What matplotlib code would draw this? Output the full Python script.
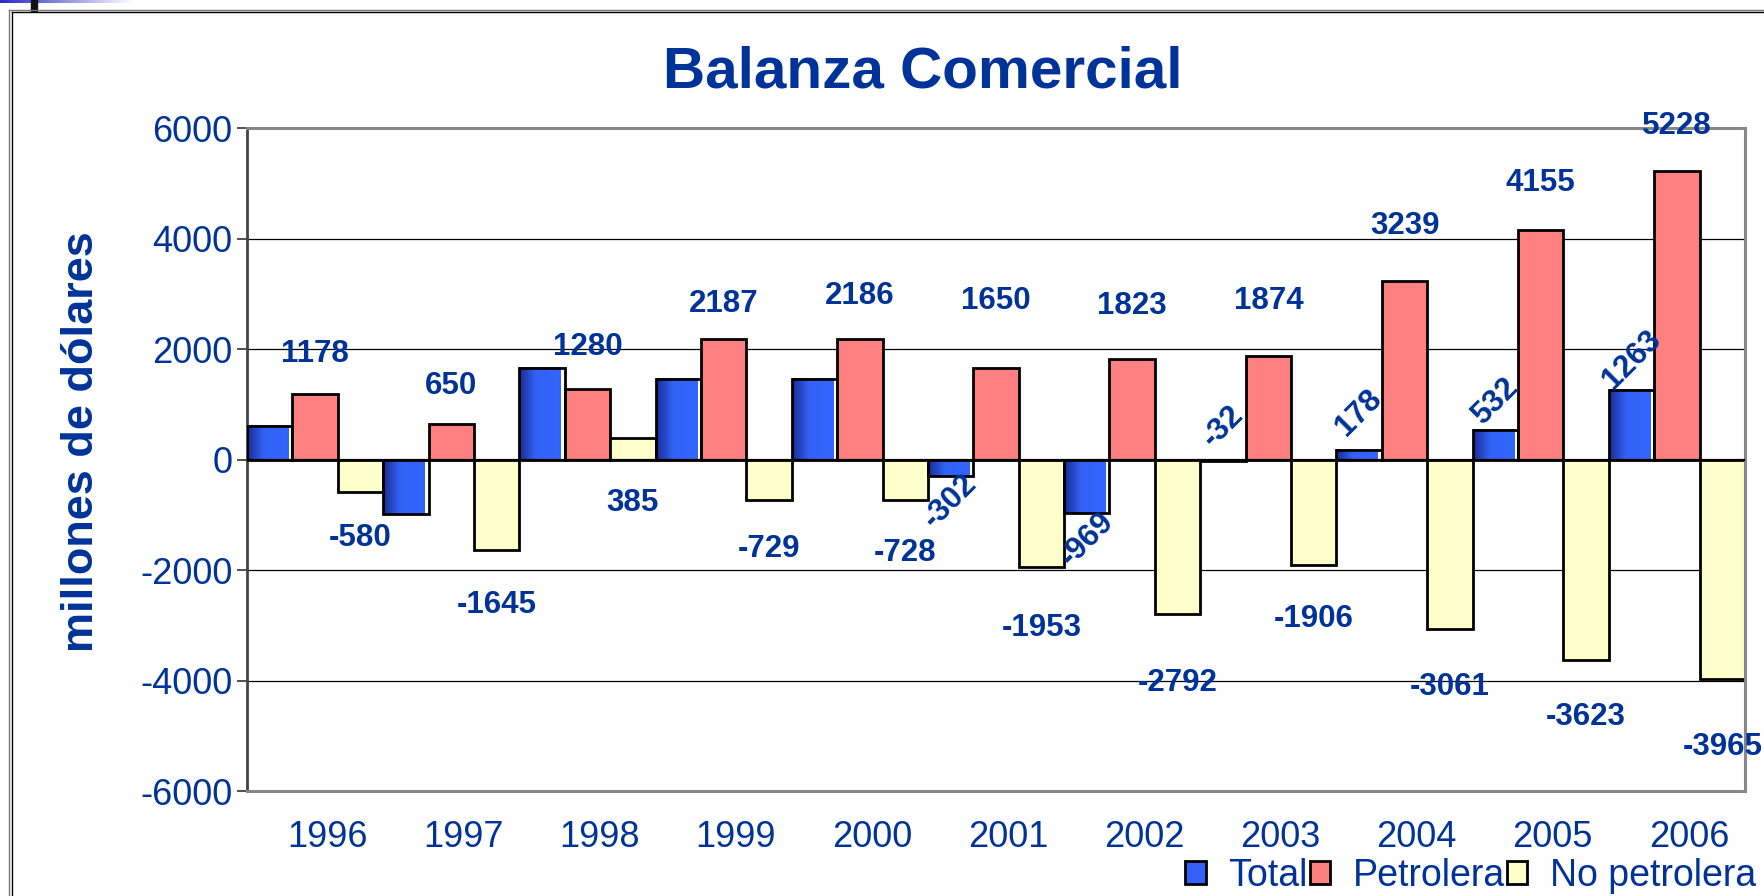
import numpy as np
import matplotlib
matplotlib.use("Agg")
import matplotlib.pyplot as plt
import matplotlib.transforms as mtransforms
from matplotlib.colors import LinearSegmentedColormap
from matplotlib.patches import Rectangle, Patch
from matplotlib.lines import Line2D

years = ["1996", "1997", "1998", "1999", "2000", "2001",
         "2002", "2003", "2004", "2005", "2006"]
total = [598, -995, 1665, 1458, 1458, -302, -969, -32, 178, 532, 1263]
petrolera = [1178, 650, 1280, 2187, 2186, 1650, 1823, 1874, 3239, 4155, 5228]
no_petrolera = [-580, -1645, 385, -729, -728, -1953, -2792, -1906, -3061, -3623, -3965]

# where the data labels sit (data units), as placed in the original chart
pet_label_y = [1912, 1332, 2030, 2810, 2964, 2873, 2773, 2873, 4223, 5008, 6030]
np_label_y = [-1414, -2628, -779, -1613, -1694, -3041, -4041, -2878, -4122, -4653, -5204]
tot_label_y = [None, None, None, None, None, -752, -1450, 607, 852, 1060, 1800]

BLUE_TXT = "#003399"
FONT = "Liberation Sans"

plt.rcParams["font.family"] = [FONT, "DejaVu Sans"]
plt.rcParams["axes.unicode_minus"] = False

W, H = 1765, 896
fig = plt.figure(figsize=(W / 100, H / 100), dpi=100)
ax = fig.add_axes([247 / W, 1 - 791 / H, (1745 - 247) / W, (791 - 128) / H])

x = np.arange(len(years))
w = 1 / 3

# grid
for gy in [-4000, -2000, 2000, 4000]:
    ax.axhline(gy, color="black", lw=0.9, zorder=0)

# Total bars: gradient fill + outline
cmap = LinearSegmentedColormap.from_list(
    "tot", [(0, "#1a2b94"), (0.4, "#3262f5"), (1, "#3366ff")])
grad = np.linspace(0, 1, 64).reshape(1, -1)
for xi, v in zip(x - w, total):
    left = xi - w / 2
    ax.imshow(grad, cmap=cmap, extent=(left, left + w * 0.92, 0, v),
              aspect="auto", interpolation="bilinear", zorder=2)
    ax.add_patch(Rectangle((left, 0), w, v, fill=False, ec="black",
                           lw=2, zorder=3))

ax.bar(x, petrolera, width=w, color="#ff8080", edgecolor="black", lw=2, zorder=2)
ax.bar(x + w, no_petrolera, width=w, color="#ffffcc", edgecolor="black", lw=2, zorder=2)

ax.axhline(0, color="black", lw=1.6, zorder=4)

# data labels
lab = dict(color=BLUE_TXT, fontsize=22.5, fontweight="bold", ha="center",
           va="center", zorder=5)
for xi, ly, v in zip(x, pet_label_y, petrolera):
    ax.text(xi, ly, str(v), clip_on=False, **lab)
for xi, ly, v in zip(x + w, np_label_y, no_petrolera):
    ax.text(xi, ly, str(v), clip_on=False, **lab)
for xi, ly, v in zip(x - w, tot_label_y, total):
    if ly is not None:
        ax.text(xi, ly, str(v), rotation=45, rotation_mode="anchor", **lab)

ax.set_xlim(-0.5, len(years) - 0.5)
ax.set_ylim(-6000, 6000)
ax.set_yticks(np.arange(-6000, 6001, 2000))
ax.set_xticks(x)
ax.set_xticklabels(years)
ax.tick_params(axis="y", labelsize=26, labelcolor=BLUE_TXT, length=7,
               width=1.2, pad=3.5, color="#333333")
ax.tick_params(axis="x", labelsize=26, labelcolor=BLUE_TXT, length=0, pad=21)
shift = mtransforms.ScaledTranslation(0.12, 0, fig.dpi_scale_trans)
for t in ax.get_xticklabels():
    t.set_transform(t.get_transform() + shift)

for side in ["top", "right", "bottom"]:
    ax.spines[side].set_color("#888888")
    ax.spines[side].set_linewidth(2.2)
ax.spines["left"].set_color("#444444")
ax.spines["left"].set_linewidth(2)

fig.text(923 / W, 1 - 73 / H, "Balanza Comercial", fontsize=42,
         fontweight="bold", color=BLUE_TXT, ha="center", va="center")
fig.text(82 / W, 1 - 442 / H, "millones de dólares", fontsize=32.5,
         fontweight="bold", color=BLUE_TXT, rotation=90,
         ha="center", va="center")

handles = [Patch(facecolor="#3262f5", edgecolor="black", lw=2),
           Patch(facecolor="#ff8080", edgecolor="black", lw=2),
           Patch(facecolor="#ffffcc", edgecolor="black", lw=2)]
fig.legend(handles, ["Total", "Petrolera", "No petrolera"],
           loc="center right", bbox_to_anchor=(1756 / W, 1 - 876 / H),
           ncol=3, frameon=False, fontsize=27, labelcolor=BLUE_TXT,
           handlelength=0.55, handleheight=0.55, handletextpad=0.6,
           columnspacing=0.05, borderpad=0, borderaxespad=0)

# slide frame and decoration
fig.add_artist(Line2D([9.5 / W, 9.5 / W], [0, 1 - 10.5 / H], color="#777777", lw=1))
fig.add_artist(Line2D([12.5 / W, 12.5 / W], [0, 1 - 12.5 / H], color="black", lw=1))
fig.add_artist(Line2D([9.5 / W, 1], [1 - 10.5 / H, 1 - 10.5 / H], color="#777777", lw=1))
fig.add_artist(Line2D([12.5 / W, 1], [1 - 12.5 / H, 1 - 12.5 / H], color="black", lw=1))
strip = fig.add_axes([0, 1 - 3 / H, 134 / W, 3 / H])
strip.imshow(np.linspace(0, 1, 64).reshape(1, -1), aspect="auto",
             cmap=LinearSegmentedColormap.from_list("s", ["#2b2bc8", "#ffffff"]))
strip.axis("off")
fig.add_artist(Rectangle((31 / W, 1 - 11 / H), 6 / W, 11 / H,
                         transform=fig.transFigure, color="#111111"))

fig.savefig("out.png", dpi=100)
